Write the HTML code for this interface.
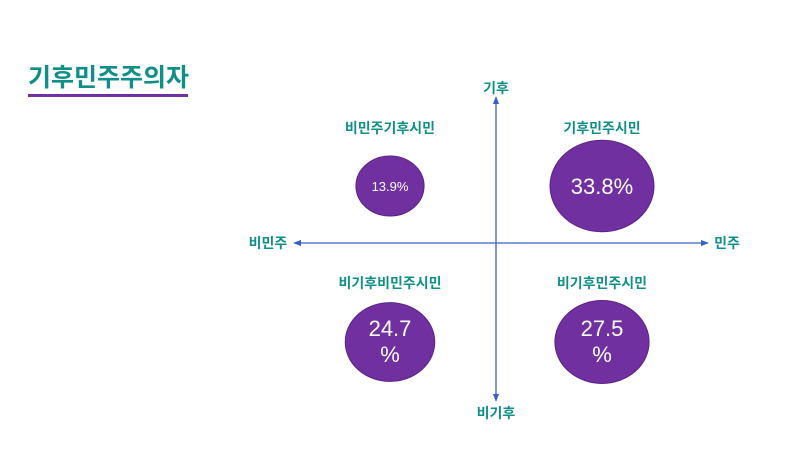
<!DOCTYPE html>
<html><head><meta charset="utf-8">
<style>
body{margin:0;background:#fff;}
svg{display:block;}
text{font-family:"Liberation Sans","Noto Sans CJK KR",sans-serif;}
</style></head>
<body>
<svg id="chart" width="800" height="450" viewBox="0 0 800 450">
  <text x="28" y="86" font-size="25" font-weight="bold" fill="#0f8f88">기후민주주의자</text>
  <rect x="28" y="94" width="160" height="3" fill="#7030a0"/>
  <defs>
    <marker id="ah" viewBox="0 0 10 10" refX="9" refY="5" markerWidth="6" markerHeight="6" orient="auto-start-reverse">
      <path d="M0,1 L10,5 L0,9 z" fill="#3a5fc8"/>
    </marker>
  </defs>
  <line x1="496" y1="97" x2="496" y2="401" stroke="#3a5fc8" stroke-width="1.3" marker-start="url(#ah)" marker-end="url(#ah)"/>
  <line x1="294" y1="243" x2="708" y2="243" stroke="#3a5fc8" stroke-width="1.3" marker-start="url(#ah)" marker-end="url(#ah)"/>
  <text x="496" y="93" text-anchor="middle" font-size="14" font-weight="bold" fill="#0f8f88">기후</text>
  <text x="496" y="418" text-anchor="middle" font-size="14" font-weight="bold" fill="#0f8f88">비기후</text>
  <text x="268" y="248" text-anchor="middle" font-size="14" font-weight="bold" fill="#0f8f88">비민주</text>
  <text x="727" y="248" text-anchor="middle" font-size="14" font-weight="bold" fill="#0f8f88">민주</text>
  <g id="bubbles"></g>
</svg>
<script>
const categories = ["비민주기후시민","기후민주시민","비기후비민주시민","비기후민주시민"];
const values = [13.9, 33.8, 24.7, 27.5];
const quadX = [-1, 1, -1, 1];
const quadY = [1, 1, -1, -1];

const cx0 = 496;
function xPos(q){ return cx0 + q*106; }
function rScale(v){ return 8.6*Math.sqrt(v) + 2; }

const g = document.getElementById('bubbles');
const ns = "http://www.w3.org/2000/svg";
categories.forEach((c,i)=>{
  const x = xPos(quadX[i]);
  const y = quadY[i] > 0 ? 186 : 342;
  const rx = rScale(values[i]), ry = rx*0.88;
  const e = document.createElementNS(ns,'ellipse');
  
  
  e.setAttribute('cx', x); e.setAttribute('cy', y);
  e.setAttribute('rx', rx); e.setAttribute('ry', ry);
  e.setAttribute('fill', '#7030a0'); e.setAttribute('stroke', '#5a2386'); e.setAttribute('stroke-width','1');
  g.appendChild(e);
  const t = document.createElementNS(ns,'text');
  
  
  t.setAttribute('x', x); t.setAttribute('y', quadY[i]>0 ? 133 : 288);
  t.setAttribute('text-anchor','middle'); t.setAttribute('font-size','14'); t.setAttribute('font-weight','bold'); t.setAttribute('fill','#0f8f88');
  t.textContent = c;
  g.appendChild(t);
  const lbl = values[i].toFixed(1);
  if (quadY[i] > 0) {
    const v = document.createElementNS(ns,'text');
    
    
    v.setAttribute('x', x); v.setAttribute('y', y + (i===0?5:8));
    v.setAttribute('text-anchor','middle'); v.setAttribute('fill','#fff');
    v.setAttribute('font-size', i===0 ? '13' : '22');
    v.textContent = lbl + '%';
    g.appendChild(v);
  } else {
    const v = document.createElementNS(ns,'text');
    
    
    v.setAttribute('x', x); v.setAttribute('y', y - 6);
    v.setAttribute('text-anchor','middle'); v.setAttribute('fill','#fff'); v.setAttribute('font-size','22');
    v.textContent = lbl;
    g.appendChild(v);
    const p = document.createElementNS(ns,'text');
    
    
    p.setAttribute('x', x); p.setAttribute('y', y + 20);
    p.setAttribute('text-anchor','middle'); p.setAttribute('fill','#fff'); p.setAttribute('font-size','22');
    p.textContent = '%';
    g.appendChild(p);
  }
});
</script>
</body></html>
